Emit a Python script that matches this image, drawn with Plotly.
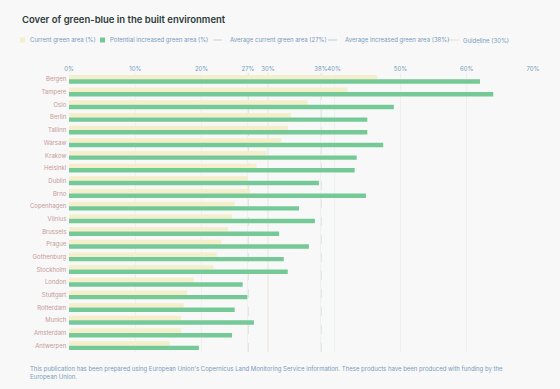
import plotly.graph_objects as go

cities = ["Bergen", "Tampere", "Oslo", "Berlin", "Tallinn", "Warsaw", "Krakow", "Helsinki",
          "Dublin", "Brno", "Copenhagen", "Vilnius", "Brussels", "Prague", "Gothenburg",
          "Stockholm", "London", "Stuttgart", "Rotterdam", "Munich", "Amsterdam", "Antwerpen"]
current = [46.5, 42.0, 36.0, 33.5, 33.0, 32.0, 29.8, 28.3, 27.0, 27.3, 25.0, 24.6, 24.0,
           23.0, 22.3, 21.8, 18.8, 17.8, 17.3, 16.9, 16.9, 15.2]
increased = [62.0, 64.0, 49.0, 45.0, 45.0, 47.4, 43.4, 43.1, 37.7, 44.8, 34.7, 37.1, 31.7,
             36.2, 32.4, 33.0, 26.2, 26.9, 25.0, 27.9, 24.6, 19.6]
avg_current = 27
avg_increased = 38
guideline = 30
tick_vals = [0, 10, 20, 27, 30, 38, 40, 50, 60, 70]
tick_text = ["0%", "10%", "20%", "27%", "30%", "38%", "40%", "50%", "60%", "70%"]
legend_labels = ["Current green area (%)", "Potential increased green area (%)",
                 "Average current green area (27%)", "Average increased green area (38%)",
                 "Guideline (30%)"]

W, H = 560, 389
ML, MR, MT, MB = 69, 27, 73, 37
PW, PH = W - ML - MR, H - MT - MB
def px(x):
    return (x - ML) / PW
def py(y):
    return (H - MB - y) / PH

FONT = "Inter, Roboto, sans-serif"
C_CUR = "#f4eecb"
C_INC = "#74c997"
C_AVGC = "#c9d2c9"
C_AVGI = "#b9cdd0"
C_GUIDE = "#f2d9c8"
TXT = "#7a9cc0"

fig = go.Figure()
fig.add_trace(go.Bar(y=cities, x=current, orientation="h", name=legend_labels[0],
                     marker=dict(color=C_CUR, line=dict(width=0))))
fig.add_trace(go.Bar(y=cities, x=increased, orientation="h", name=legend_labels[1],
                     marker=dict(color=C_INC, line=dict(width=0))))

fig.add_shape(type="line", x0=avg_current, x1=avg_current, y0=0, y1=1, yref="paper",
              line=dict(color=C_AVGC, width=1, dash="dash"), layer="below")
fig.add_shape(type="line", x0=avg_increased, x1=avg_increased, y0=0, y1=1, yref="paper",
              line=dict(color=C_AVGI, width=1, dash="dash"), layer="below")
fig.add_shape(type="line", x0=guideline, x1=guideline, y0=0, y1=1, yref="paper",
              line=dict(color=C_GUIDE, width=1), layer="below")

# manual one-line legend
ly = py(40)
legend_items = [
    ("square", C_CUR, None, 20, 28),
    ("square", C_INC, None, 100, 108),
    ("line", C_AVGC, "dash", 213, 228),
    ("line", C_AVGI, "dash", 328, 343),
    ("line", C_GUIDE, "solid", 448, 461),
]
for (kind, col, dash, x0, tx), label in zip(legend_items, legend_labels):
    if kind == "square":
        fig.add_shape(type="rect", xref="paper", yref="paper", x0=px(x0), x1=px(x0 + 5),
                      y0=ly - 2.5 / PH, y1=ly + 2.5 / PH, fillcolor=col, line=dict(width=0))
    else:
        fig.add_shape(type="line", xref="paper", yref="paper", x0=px(x0), x1=px(x0 + 11),
                      y0=ly, y1=ly, line=dict(color=col, width=1, dash=dash))
    fig.add_annotation(text=label, xref="paper", yref="paper", x=px(tx), y=ly,
                       xanchor="left", yanchor="middle", showarrow=False,
                       font=dict(size=6, color=TXT))

fig.update_layout(
    width=W, height=H,
    paper_bgcolor="#f7f8f7", plot_bgcolor="#f7f8f7",
    margin=dict(l=ML, r=MR, t=MT, b=MB, autoexpand=False),
    barmode="group", bargap=0.3, bargroupgap=0.0,
    font=dict(family=FONT, size=6, color=TXT),
    title=dict(text="Cover of green-blue in the built environment", x=22 / W, xanchor="left",
               y=1 - 20 / H, yanchor="middle",
               font=dict(family=FONT, size=9.5, color="#2e3a3a", weight=600)),
    showlegend=False,
    xaxis=dict(side="top", range=[0, 70], tickvals=tick_vals, ticktext=tick_text,
               tickangle=0, showgrid=True, gridcolor="#eef0ee", gridwidth=1, zeroline=False,
               tickfont=dict(size=6, color=TXT), ticks="", ticklen=4, fixedrange=True),
    yaxis=dict(autorange="reversed", tickfont=dict(size=6, color="#c89a9a"),
               ticks="", showgrid=False, ticksuffix=" "),
)
fig.add_annotation(text="This publication has been prepared using European Union's Copernicus Land Monitoring Service information. These products have been produced with funding by the<br>European Union.",
                   xref="paper", yref="paper", x=px(28), y=py(363), xanchor="left", yanchor="top",
                   showarrow=False, align="left", font=dict(size=6, color=TXT))
fig.write_html("out.html")
